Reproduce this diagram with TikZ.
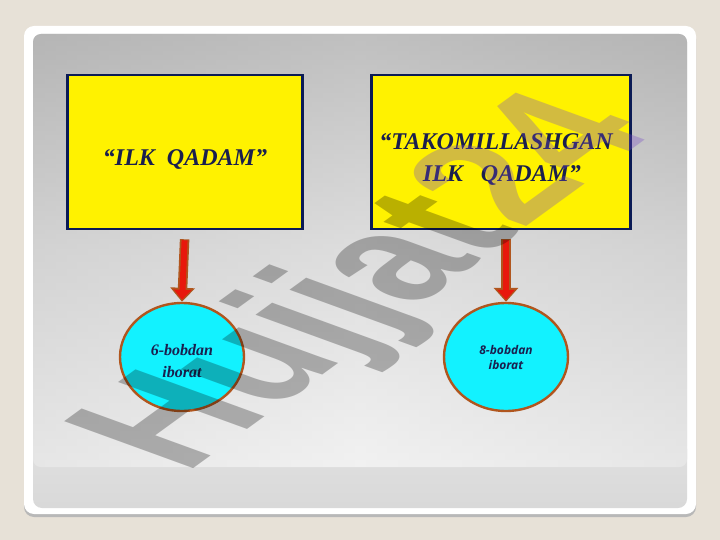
\documentclass[tikz,border=0pt]{standalone}
\usepackage{fontspec}
\setmainfont{Liberation Serif}
\newfontfamily\markfont{Liberation Sans}
\newfontfamily\opensans{Open Sans}
\usetikzlibrary{shapes.geometric,positioning,calc}
\usetikzlibrary{arrows.meta}
\definecolor{beige}{HTML}{E7E1D7}
\definecolor{navyline}{HTML}{0B1B55}
\definecolor{navytext}{HTML}{1A1F4E}
\definecolor{cyanfill}{HTML}{12F2FF}
\definecolor{brownline}{HTML}{B0561E}
\definecolor{arrowred}{HTML}{E8180C}
\definecolor{markviolet}{HTML}{7548C8}

\begin{document}
\begin{tikzpicture}[x=1pt, y=-1pt,
		stepbox/.style={draw=navyline, line width=2.6pt, fill=yellow, rectangle, align=center, text=navytext, font=\bfseries\itshape\fontsize{24}{32}\selectfont},
		chapter/.style={draw=brownline, line width=2.4pt, fill=cyanfill, ellipse, minimum width=124pt, minimum height=108pt, inner sep=0pt, align=center, text=navytext},
		outer/.style={draw=brownline, line width=9.5pt, shorten <=9pt, -{Triangle[length=14pt,width=24pt]}},
		inner/.style={draw=arrowred, line width=6pt, shorten <=10pt, shorten >=2pt, -{Triangle[length=10pt,width=17pt]}}]
				\useasboundingbox (0,0) rectangle (720,540);
				% Background

				\fill[beige] (0,0) rectangle (720,540);
				\fill[black!28, rounded corners=10pt] (24,29) rectangle (696,517);
				\fill[white, rounded corners=10pt] (24,26) rectangle (696,514);
				\shade[rounded corners=9pt, top color=black!12, bottom color=black!15] (33,440) rectangle (687,508);
				\shade[rounded corners=8pt, top color=black!38, bottom color=black!8, middle color=black!20] (33,34) rectangle (687,467);
				\shade[rounded corners=8pt, left color=black!12, right color=black!12, middle color=white, opacity=0.35] (33,34) rectangle (687,467);

				% Nodes

				\node [stepbox, minimum width=235pt, minimum height=154pt] (b1) at (185,152) {\rule{0pt}{31pt}``ILK\ \ QADAM''};
				\node [stepbox, minimum width=259pt, minimum height=154pt] (b2) at (501,152) {\rule{0pt}{31pt}``TAKOMILLASHGAN\hspace*{10pt}\\ \ \ ILK\ \ \ QADAM''\hspace*{10pt}};
				\node [chapter, font=\bfseries\itshape\fontsize{16}{22}\selectfont] (e1) at (182,357) {\rule{0pt}{19pt}6-bobdan\\iborat};
				\node [chapter, font=\opensans\bfseries\itshape\fontsize{12}{15}\selectfont] (e2) at (506,357) {8-bobdan\\iborat};

				% Arrows

				\draw[outer] (b1.south) -- (e1.north);\draw[inner] (b1.south) -- (e1.north);
				\draw[outer] (b2.south -| e2.north) -- (e2.north);\draw[inner] (b2.south -| e2.north) -- (e2.north);

				% Watermark

				\begin{scope}
					\clip[rounded corners=10pt] (24,26) rectangle (696,514);
					\begin{scope}[shift={(185,475)}, cm={0.809,0.588,-1.25,0.455,(0,0)}]
						\node [transform shape, anchor=base west, inner sep=0pt, font=\markfont\bfseries\fontsize{150}{150}\selectfont] (mark) at (0,0)
							{\textcolor{black}{\pgfsetfillopacity{0.27}Hujjat}\textcolor{markviolet}{\pgfsetfillopacity{0.32}24}};
					\end{scope}
				\end{scope}
			\end{tikzpicture}
\end{document}
